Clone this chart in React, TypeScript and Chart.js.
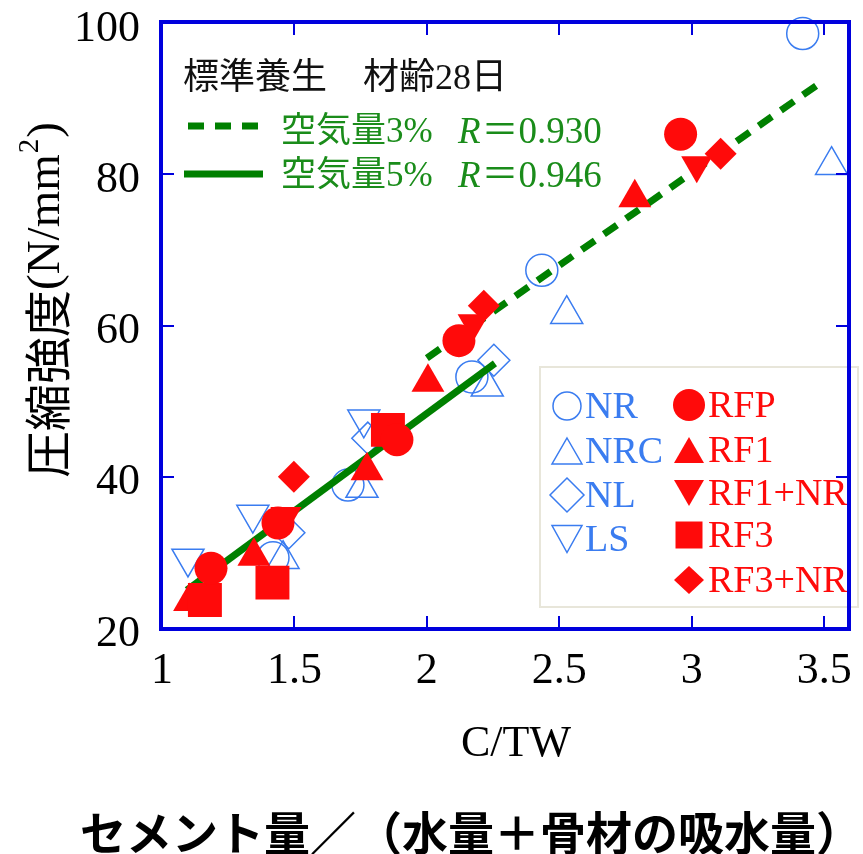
import React, { useEffect, useRef } from 'react';
import { Chart, registerables } from 'chart.js';

Chart.register(...registerables);

// ---- axis ticks ----
const xTickValues = [1, 1.5, 2, 2.5, 3, 3.5];
const xTickLabels = ['1', '1.5', '2', '2.5', '3', '3.5'];
const yTickValues = [20, 40, 60, 80, 100];
const yTickLabels = ['20', '40', '60', '80', '100'];

// ---- series (C/TW, 圧縮強度) ----
const nrX = [3.419, 2.434, 2.17, 1.702, 1.419];
const nrY = [98.6, 67.3, 53.2, 38.9, 29.3];
const nrcX = [3.528, 2.528, 2.228, 1.755, 1.457];
const nrcY = [81.2, 61.5, 51.9, 38.5, 29.1];
const nlX = [2.253, 1.777, 1.479];
const nlY = [55.4, 45.1, 32.6];
const lsX = [1.762, 1.343, 1.098];
const lsY = [47.6, 35.0, 29.2];

const rfpX = [2.958, 2.121, 1.887, 1.438, 1.185];
const rfpY = [85.3, 58.0, 44.9, 33.9, 27.9];
const rf1X = [2.785, 2.004, 1.774, 1.347, 1.104];
const rf1Y = [76.9, 52.5, 40.8, 29.5, 23.5];
const rf1nrX = [3.019, 2.175, 1.468];
const rf1nrY = [81.2, 60.3, 34.8];
const rf3X = [1.853, 1.417, 1.162];
const rf3Y = [46.2, 26.0, 23.7];
const rf3nrX = [3.109, 2.215, 1.498];
const rf3nrY = [82.7, 62.6, 40.0];

// regression lines
const fit3X = [2.0, 3.49];
const fit3Y = [55.7, 92.2];
const fit5X = [1.094, 2.257];
const fit5Y = [25.0, 55.0];

// ---- texts ----
const blueLabels = ['NR', 'NRC', 'NL', 'LS'];
const redLabels = ['RFP', 'RF1', 'RF1+NR', 'RF3', 'RF3+NR'];
const headerText = '標準養生　材齢28日';
const fitLabels = ['空気量3%', '空気量5%'];
const fitR = ['＝0.930', '＝0.946'];
const xTitle = 'C/TW';
const xSubTitle = 'セメント量／（水量＋骨材の吸水量）';
const yTitleMain = '圧縮強度';
const yTitleUnit = '(N/mm';

const BLUE = '#3a7cf0';
const RED = '#ff0a0a';
const GREEN = '#008000';
const GREEN_TEXT = '#1a8c1a';
const AXIS = '#0000dd';
const SERIF = '"Liberation Serif", "Noto Sans CJK JP", serif';

const pts = (xs: number[], ys: number[]) => xs.map((x, i) => ({ x, y: ys[i] }));

function drawShape(ctx: CanvasRenderingContext2D, kind: string, cx: number, cy: number, w: number, h: number, color: string, filled: boolean) {
  ctx.beginPath();
  if (kind === 'circle') {
    ctx.arc(cx, cy, w / 2, 0, Math.PI * 2);
  } else if (kind === 'up') {
    ctx.moveTo(cx, cy - h / 2);
    ctx.lineTo(cx + w / 2, cy + h / 2);
    ctx.lineTo(cx - w / 2, cy + h / 2);
    ctx.closePath();
  } else if (kind === 'down') {
    ctx.moveTo(cx - w / 2, cy - h / 2);
    ctx.lineTo(cx + w / 2, cy - h / 2);
    ctx.lineTo(cx, cy + h / 2);
    ctx.closePath();
  } else if (kind === 'diamond') {
    ctx.moveTo(cx, cy - h / 2);
    ctx.lineTo(cx + w / 2, cy);
    ctx.lineTo(cx, cy + h / 2);
    ctx.lineTo(cx - w / 2, cy);
    ctx.closePath();
  } else {
    ctx.rect(cx - w / 2, cy - h / 2, w, h);
  }
  if (filled) {
    ctx.fillStyle = color;
    ctx.fill();
  } else {
    ctx.strokeStyle = color;
    ctx.lineWidth = 1.5;
    ctx.stroke();
  }
}

const decorPlugin = {
  id: 'decor',
  afterDatasetsDraw(chart: any) {
    const ctx: CanvasRenderingContext2D = chart.ctx;
    // legend box
    ctx.save();
    ctx.fillStyle = '#ffffff';
    ctx.fillRect(540, 367, 318, 240);
    ctx.strokeStyle = '#e8e6da';
    ctx.lineWidth = 2;
    ctx.strokeRect(540, 367, 318, 240);

    const blueKinds = ['circle', 'up', 'diamond', 'down'];
    const blueY = [406, 451, 495, 539];
    const blueSizes = [[28, 28], [30, 26], [34, 34], [30, 27]];
    ctx.font = '38px ' + SERIF;
    ctx.textBaseline = 'middle';
    ctx.textAlign = 'left';
    blueLabels.forEach((lab, i) => {
      drawShape(ctx, blueKinds[i], 567, blueY[i], blueSizes[i][0], blueSizes[i][1], BLUE, false);
      ctx.fillStyle = BLUE;
      ctx.fillText(lab, 585, blueY[i] + 2);
    });
    const redKinds = ['circle', 'up', 'down', 'square', 'diamond'];
    const redY = [405, 450, 493, 535, 580];
    const redSizes = [[32, 32], [30, 26], [30, 26], [27, 27], [30, 28]];
    redLabels.forEach((lab, i) => {
      drawShape(ctx, redKinds[i], 689, redY[i], redSizes[i][0], redSizes[i][1], RED, true);
      ctx.fillStyle = RED;
      ctx.fillText(lab, 708, redY[i] + 2);
    });
    ctx.restore();
  },
  afterDraw(chart: any) {
    const ctx: CanvasRenderingContext2D = chart.ctx;
    const { left, right, top, bottom } = chart.chartArea;
    const xs = chart.scales.x;
    const ys = chart.scales.y;
    ctx.save();
    // frame
    ctx.strokeStyle = AXIS;
    ctx.lineWidth = 4;
    ctx.strokeRect(left - 1, top - 1, right - left + 2, bottom - top + 2);
    // inside ticks
    ctx.lineWidth = 2;
    ctx.beginPath();
    xTickValues.forEach((v) => {
      if (v <= xs.min || v >= xs.max) return;
      const px = Math.round(xs.getPixelForValue(v));
      ctx.moveTo(px, bottom);
      ctx.lineTo(px, bottom - 12);
      ctx.moveTo(px, top);
      ctx.lineTo(px, top + 12);
    });
    yTickValues.forEach((v) => {
      if (v <= ys.min || v >= ys.max) return;
      const py = Math.round(ys.getPixelForValue(v));
      ctx.moveTo(left, py);
      ctx.lineTo(left + 12, py);
      ctx.moveTo(right, py);
      ctx.lineTo(right - 12, py);
    });
    ctx.stroke();

    // header text
    ctx.textBaseline = 'middle';
    ctx.textAlign = 'left';
    ctx.fillStyle = '#111111';
    ctx.font = '36px ' + SERIF;
    ctx.fillText(headerText, 183, 80);

    // regression legend
    ctx.strokeStyle = GREEN;
    ctx.lineWidth = 7;
    ctx.setLineDash([16, 11]);
    ctx.beginPath();
    ctx.moveTo(188, 126);
    ctx.lineTo(263, 126);
    ctx.stroke();
    ctx.setLineDash([]);
    ctx.beginPath();
    ctx.moveTo(184, 174);
    ctx.lineTo(263, 174);
    ctx.stroke();

    const rowY = [133, 177];
    fitLabels.forEach((lab, i) => {
      ctx.fillStyle = GREEN_TEXT;
      ctx.font = '35px ' + SERIF;
      ctx.fillText(lab, 281, rowY[i]);
      ctx.font = 'italic 37px "Liberation Serif", serif';
      ctx.fillText('R', 458, rowY[i]);
      const rw = ctx.measureText('R').width;
      ctx.font = '37px ' + SERIF;
      ctx.fillText(fitR[i], 458 + rw + 1, rowY[i]);
    });

    // x titles
    ctx.fillStyle = '#000000';
    ctx.textAlign = 'center';
    ctx.font = '44px "Liberation Serif", serif';
    ctx.fillText(xTitle, 516, 744);
    ctx.textAlign = 'left';
    ctx.font = 'bold 46px "Noto Sans CJK JP", sans-serif';
    ctx.fillText(xSubTitle, 80, 833);

    // y title (rotated)
    ctx.translate(47, 478);
    ctx.rotate(-Math.PI / 2);
    ctx.textAlign = 'left';
    ctx.textBaseline = 'middle';
    let pos = 0;
    ctx.font = '47px "Noto Sans CJK JP", sans-serif';
    ctx.fillText(yTitleMain, pos, 0);
    pos += ctx.measureText(yTitleMain).width;
    ctx.font = '47px "Liberation Serif", serif';
    ctx.fillText(yTitleUnit, pos, 0);
    pos += ctx.measureText(yTitleUnit).width;
    ctx.font = '29px "Liberation Serif", serif';
    ctx.fillText('2', pos + 1, -17);
    pos += ctx.measureText('2').width + 2;
    ctx.font = '47px "Liberation Serif", serif';
    ctx.fillText(')', pos, 0);
    ctx.restore();
  },
};

export default function App() {
  const ref = useRef<HTMLCanvasElement | null>(null);
  useEffect(() => {
    document.body.style.margin = '0';
    const canvas = ref.current;
    if (!canvas) return;
    const blueBase = { backgroundColor: 'rgba(0,0,0,0)', borderColor: BLUE, borderWidth: 1.5, clip: false as any };
    const redBase = { backgroundColor: RED, borderColor: RED, borderWidth: 0, clip: false as any };
    const chart = new Chart(canvas, {
      type: 'scatter',
      data: {
        datasets: [
          { label: 'RFP', data: pts(rfpX, rfpY), pointStyle: 'circle', pointRadius: 16.5, ...redBase },
          { label: 'RF3+NR', data: pts(rf3nrX, rf3nrY), pointStyle: 'rectRot', pointRadius: 16, ...redBase },
          { label: 'RF3', data: pts(rf3X, rf3Y), pointStyle: 'rect', pointRadius: 24, ...redBase },
          { label: 'RF1', data: pts(rf1X, rf1Y), pointStyle: 'triangle', pointRadius: 19, ...redBase },
          { label: 'RF1+NR', data: pts(rf1nrX, rf1nrY), pointStyle: 'triangle', pointRotation: 180, pointRadius: 18, ...redBase },
          { label: '空気量3%', type: 'line', data: pts(fit3X, fit3Y), showLine: true, borderColor: GREEN, borderWidth: 7, borderDash: [16, 11], pointRadius: 0, fill: false },
          { label: '空気量5%', type: 'line', data: pts(fit5X, fit5Y), showLine: true, borderColor: GREEN, borderWidth: 7, pointRadius: 0, fill: false },
          { label: 'NR', data: pts(nrX, nrY), pointStyle: 'circle', pointRadius: 16, ...blueBase },
          { label: 'NRC', data: pts(nrcX, nrcY), pointStyle: 'triangle', pointRadius: 18.5, ...blueBase },
          { label: 'NL', data: pts(nlX, nlY), pointStyle: 'rectRot', pointRadius: 16, ...blueBase },
          { label: 'LS', data: pts(lsX, lsY), pointStyle: 'triangle', pointRotation: 180, pointRadius: 18.5, ...blueBase },
        ] as any,
      },
      options: {
        animation: false,
        responsive: false,
        maintainAspectRatio: false,
        layout: { padding: { top: 23, right: 15, left: 0, bottom: 0 } },
        plugins: { legend: { display: false }, tooltip: { enabled: false } },
        scales: {
          x: {
            type: 'linear',
            min: 1,
            max: 3.59,
            grid: { display: false },
            border: { display: false },
            afterBuildTicks: (s: any) => { s.ticks = xTickValues.map((v) => ({ value: v })); },
            afterFit: (s: any) => { s.height = 226; s.paddingLeft = 0; s.paddingRight = 0; },
            ticks: {
              color: '#000',
              padding: 9,
              maxRotation: 0,
              autoSkip: false,
              font: { family: '"Liberation Serif", serif', size: 44 },
              callback: (v: any) => xTickLabels[xTickValues.indexOf(Number(v))] ?? '',
            },
          },
          y: {
            type: 'linear',
            min: 20,
            max: 100,
            grid: { display: false },
            border: { display: false },
            afterBuildTicks: (s: any) => { s.ticks = yTickValues.map((v) => ({ value: v })); },
            afterFit: (s: any) => { s.width = 162; s.paddingTop = 0; s.paddingBottom = 0; },
            ticks: {
              color: '#000',
              padding: 14,
              labelOffset: 6,
              autoSkip: false,
              font: { family: '"Liberation Serif", serif', size: 44 },
              callback: (v: any) => yTickLabels[yTickValues.indexOf(Number(v))] ?? '',
            },
          },
        },
      },
      plugins: [decorPlugin],
    });
    // the plot frame is fixed by the layout padding, not by marker overflow
    chart.data.datasets.forEach((_: any, i: number) => {
      const c: any = chart.getDatasetMeta(i).controller;
      c.getMaxOverflow = () => 0;
    });
    chart.update();
    return () => chart.destroy();
  }, []);
  return <canvas ref={ref} width={863} height={854} style={{ display: 'block', width: 863, height: 854 }} />;
}
